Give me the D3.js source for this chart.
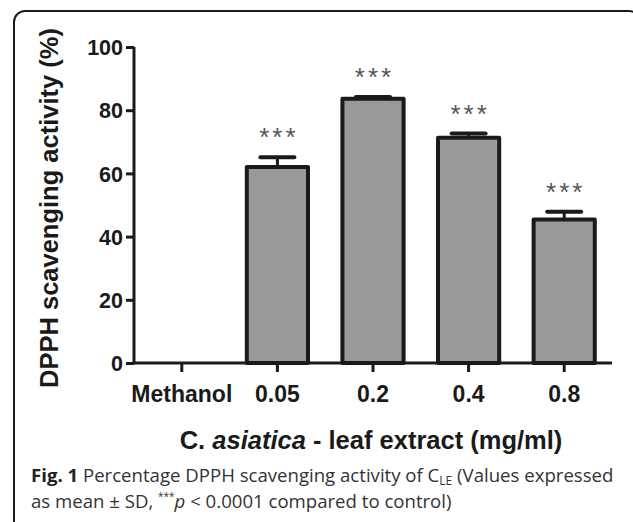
<!DOCTYPE html>
<html>
<head>
<meta charset="utf-8">
<script src="https://cdn.jsdelivr.net/npm/d3@7/dist/d3.min.js"></script>
<style>
    body { margin: 0; background: #fff; }
    svg { display: block; }
</style>
</head>
<body>
<svg id="dpph-chart"></svg>
<script>
// values
var categories = ["Methanol", "0.05", "0.2", "0.4", "0.8"];
var means = [0, 62.0, 83.6, 71.3, 45.4];
var sds = [0, 3.1, 0.6, 1.3, 2.5];
var stars = ["", "***", "***", "***", "***"];
var yTicks = [0, 20, 40, 60, 80, 100];

var size = {
    width: 633,
    height: 522,
    top: 47,
    bottom: 363,
    left: 134,
    right: 612
};

var font = "'Liberation Sans', Arial, sans-serif";

var svg = d3.select("#dpph-chart")
    .attr("width", size.width)
    .attr("height", size.height);

// outer frame, open at the bottom / right
svg.append("rect")
    .attr("x", 14)
    .attr("y", 11)
    .attr("width", 626)
    .attr("height", 540)
    .attr("rx", 11)
    .attr("fill", "none")
    .attr("stroke", "#1a1a1a")
    .attr("stroke-width", 2);

var data = categories.map(function(c, i) {
    return { cat: c, mean: means[i], sd: sds[i], star: stars[i] };
});

var x = d3.scaleBand()
    .domain(categories)
    .range([size.left, size.right])
    .paddingInner(0.36)
    .paddingOuter(0.18);

var y = d3.scaleLinear()
    .domain([0, 100])
    .range([size.bottom, size.top]);

// bars (skip the zero control)
var bars = data.filter(function(d) { return d.mean > 0; });

svg.selectAll(".bar")
    .data(bars)
    .enter()
    .append("rect")
    .attr("class", "bar")
    .attr("x", function(d) { return x(d.cat); })
    .attr("y", function(d) { return y(d.mean); })
    .attr("width", x.bandwidth())
    .attr("height", function(d) { return y(0) - y(d.mean); })
    .attr("fill", "#999999")
    .attr("stroke", "#1a1a1a")
    .attr("stroke-width", 4)
    .attr("stroke-linejoin", "round");

// error bars, upper half only
var capHalf = 17;
svg.selectAll(".stem")
    .data(bars)
    .enter()
    .append("line")
    .attr("x1", function(d) { return x(d.cat) + x.bandwidth() / 2; })
    .attr("x2", function(d) { return x(d.cat) + x.bandwidth() / 2; })
    .attr("y1", function(d) { return y(d.mean); })
    .attr("y2", function(d) { return y(d.mean + d.sd); })
    .attr("stroke", "#1a1a1a")
    .attr("stroke-width", 3);

svg.selectAll(".cap")
    .data(bars)
    .enter()
    .append("line")
    .attr("x1", function(d) { return x(d.cat) + x.bandwidth() / 2 - capHalf; })
    .attr("x2", function(d) { return x(d.cat) + x.bandwidth() / 2 + capHalf; })
    .attr("y1", function(d) { return y(d.mean + d.sd); })
    .attr("y2", function(d) { return y(d.mean + d.sd); })
    .attr("stroke", "#1a1a1a")
    .attr("stroke-width", 4)
    .attr("stroke-linecap", "round");

// significance stars
svg.selectAll(".star")
    .data(bars)
    .enter()
    .append("text")
    .attr("x", function(d) { return x(d.cat) + x.bandwidth() / 2 + 1.5; })
    .attr("y", function(d) { return y(d.mean + d.sd) - 11; })
    .attr("text-anchor", "middle")
    .attr("font-family", font)
    .attr("font-size", 26)
    .attr("letter-spacing", 3)
    .attr("fill", "#555")
    .text(function(d) { return d.star; });

// y axis
var yAxis = d3.axisLeft(y)
    .tickValues(yTicks)
    .tickSize(8)
    .tickSizeOuter(0)
    .tickPadding(3);
var gy = svg.append("g")
    .attr("transform", "translate(" + size.left + ",0)")
    .call(yAxis);

// x axis
var xAxis = d3.axisBottom(x)
    .tickSize(9)
    .tickSizeOuter(0)
    .tickPadding(14);
var gx = svg.append("g")
    .attr("transform", "translate(0," + size.bottom + ")")
    .call(xAxis);

[gx, gy].forEach(function(g) {
    g.selectAll("path, line")
        .attr("stroke", "#1a1a1a")
        .attr("stroke-width", 3);
    g.selectAll("text")
        .attr("font-family", font)
        .attr("font-weight", "bold")
        .attr("fill", "#1a1a1a");
});
gy.select(".domain").attr("d", "M0," + size.top + "V" + size.bottom);
gx.select(".domain").attr("d", "M" + (size.left - 1.5) + ",0H" + size.right);
gy.selectAll("text").attr("font-size", 21.5).attr("dy", "0.36em");
gx.selectAll("text").attr("font-size", 23).attr("dy", "0.71em");

// axis titles
svg.append("text")
    .attr("transform", "translate(58,208) rotate(-90)")
    .attr("text-anchor", "middle")
    .attr("font-family", font)
    .attr("font-weight", "bold")
    .attr("font-size", 25.5)
    .attr("fill", "#1a1a1a")
    .text("DPPH scavenging activity (%)");

var xt = svg.append("text")
    .attr("x", 371)
    .attr("y", 449)
    .attr("text-anchor", "middle")
    .attr("font-family", font)
    .attr("font-weight", "bold")
    .attr("font-size", 25.5)
    .attr("fill", "#1a1a1a");
xt.append("tspan").text("C. ");
xt.append("tspan").attr("font-style", "italic").text("asiatica");
xt.append("tspan").text(" -  leaf extract (mg/ml)");

// caption
var capFont = "'Open Sans', 'Noto Sans', sans-serif";
var c1 = svg.append("text")
    .attr("x", 31)
    .attr("y", 481.5)
    .attr("font-family", capFont)
    .attr("font-size", 18.6)
    .attr("fill", "#333");
c1.append("tspan").attr("font-weight", "bold").attr("fill", "#222").text("Fig. 1");
c1.append("tspan").text(" Percentage DPPH scavenging activity of C");
c1.append("tspan").attr("font-size", 12).attr("dy", 3).text("LE");
c1.append("tspan").attr("dy", -3).text(" (Values expressed");

var c2 = svg.append("text")
    .attr("x", 31)
    .attr("y", 507.5)
    .attr("font-family", capFont)
    .attr("font-size", 18.6)
    .attr("fill", "#333");
c2.append("tspan").text("as mean \u00b1 SD, ");
c2.append("tspan").attr("font-size", 10).attr("dy", -8).text("***");
c2.append("tspan").attr("font-style", "italic").attr("dy", 8).text("p");
c2.append("tspan").text(" < 0.0001 compared to control)");
</script>
</body>
</html>
